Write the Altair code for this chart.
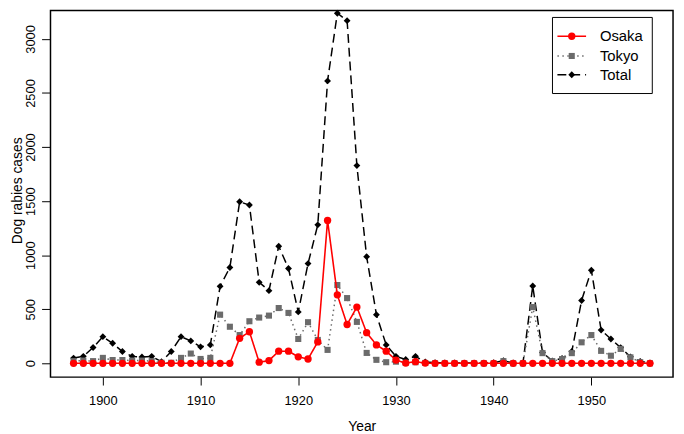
import altair as alt
import pandas as pd

years = list(range(1897, 1957))

osaka = [0, 0, 0, 0, 0, 0, 0, 0, 0, 0, 0, 0, 0, 0, 0, 0, 0,
         231, 292, 10, 25, 112, 112, 60, 40, 198, 1321, 633, 359, 520, 283, 170, 112, 30, 2, 15, 2,
         0, 0, 0, 0, 0, 0, 0, 0, 0, 0, 0, 0, 0, 0, 0, 0, 0, 0, 0, 0, 0, 0, 0]

tokyo = [20, 25, 20, 50, 30, 30, 25, 25, 20, 5, 5, 50, 90, 40, 50,
         450, 338, 261, 389, 423, 441, 511, 466, 225, 380, 216, 124, 724, 603, 383, 96, 32, 10, 15, 5, 10, 3,
         0, 0, 0, 0, 0, 0, 0, 20, 0, 0, 520, 94, 20, 39, 94, 194, 261, 115, 70, 133, 55, 10, 0]

total = [48, 64, 146, 246, 185, 109, 64, 58, 64, 15, 109, 246, 207, 152, 170,
         712, 886, 1494, 1464, 749, 672, 1083, 877, 475, 922, 1281, 2612, 3238, 3169, 1829, 986, 450, 170, 64, 35, 64, 12,
         5, 3, 3, 2, 2, 2, 5, 24, 3, 2, 715, 100, 22, 45, 109, 581, 861, 307, 225, 145, 60, 18, 3]

series_names = ["Osaka", "Tokyo", "Total"]
series_colors = ["#ff0000", "#6b6b6b", "#000000"]
x_ticks = [1900, 1910, 1920, 1930, 1940, 1950]
y_ticks = [0, 500, 1000, 1500, 2000, 2500, 3000]

df = pd.DataFrame({
    "Year": years * 3,
    "Cases": osaka + tokyo + total,
    "Series": ["Osaka"] * len(years) + ["Tokyo"] * len(years) + ["Total"] * len(years),
})

FONT = "Liberation Sans"

x_enc = alt.X(
    "Year:Q",
    scale=alt.Scale(domain=[1894.64, 1958.36], nice=False, zero=False),
    axis=alt.Axis(values=x_ticks, format="d", title="Year", tickSize=8,
                  labelPadding=20, labelBaseline="alphabetic", labelFontSize=13,
                  titleFontSize=14, titleY=50, titleBaseline="middle",
                  labelFlush=False, labelOverlap=False),
)
y_enc = alt.Y(
    "Cases:Q",
    scale=alt.Scale(domain=[-128, 3263], nice=False, zero=False),
    axis=alt.Axis(values=y_ticks, format="d", title="Dog rabies cases", tickSize=9,
                  labelAngle=270, labelAlign="center", labelBaseline="alphabetic",
                  labelPadding=7, labelFontSize=13, titleFontSize=14,
                  titleAngle=270, titleX=-33, titleY=182, titleAlign="center",
                  titleBaseline="middle", labelFlush=False, labelOverlap=False),
)

styles = {
    "Total": dict(color="#000000", dash=[9, 5], shape="diamond", size=48, width=1.5),
    "Tokyo": dict(color="#6b6b6b", dash=[1.5, 3.5], shape="square", size=38, width=1.5),
    "Osaka": dict(color="#ff0000", dash=[1, 0], shape="circle", size=55, width=1.6),
}

layers = []
for name in ["Total", "Tokyo", "Osaka"]:
    s = styles[name]
    base = alt.Chart(df).transform_filter(alt.datum.Series == name)
    layers.append(base.mark_line(color=s["color"], strokeDash=s["dash"],
                                 strokeWidth=s["width"]).encode(x=x_enc, y=y_enc))
    layers.append(base.mark_point(shape=s["shape"], filled=True, size=s["size"],
                                  color=s["color"], opacity=1).encode(x=x_enc, y=y_enc))

# legend (drawn manually to match the R-style legend)
one = pd.DataFrame({"k": [0]})
layers.append(alt.Chart(one).mark_rect(fill="white", stroke="black", strokeWidth=1).encode(
    x=alt.value(508), x2=alt.value(609), y=alt.value(7), y2=alt.value(84)))
leg_y = [26, 46, 65]
for name, ly in zip(series_names, leg_y):
    s = styles[name]
    ldf = pd.DataFrame({"label": [name]})
    layers.append(alt.Chart(ldf).mark_rule(color=s["color"], strokeDash=s["dash"],
                                          strokeWidth=s["width"]).encode(
        x=alt.value(513), x2=alt.value(542), y=alt.value(ly)))
    layers.append(alt.Chart(ldf).mark_point(shape=s["shape"], filled=True, size=s["size"],
                                           color=s["color"], opacity=1).encode(
        x=alt.value(527.5), y=alt.value(ly)))
    layers.append(alt.Chart(ldf).mark_text(align="left", baseline="middle", fontSize=15,
                                          font=FONT, color="black").encode(
        x=alt.value(556), y=alt.value(ly), text="label:N"))

chart = alt.layer(*layers).properties(
    width=630, height=371,
    autosize=alt.AutoSizeParams(type="none"),
    padding={"left": 43, "top": 0, "right": 3, "bottom": 55},
).configure_view(
    stroke="black", strokeWidth=1.5
).configure_axis(
    labelFont=FONT, titleFont=FONT, labelColor="black", titleColor="black",
    tickColor="black", tickWidth=1, domain=False, grid=False, titleFontWeight="normal",
)

chart.save("out.html", embed_options={"renderer": "svg", "actions": False})
